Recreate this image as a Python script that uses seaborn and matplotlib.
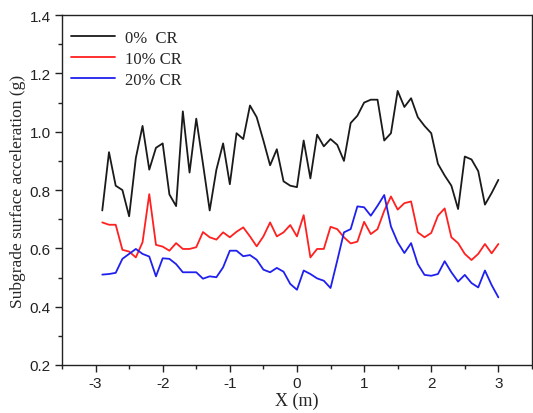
import numpy as np
import pandas as pd
import matplotlib
matplotlib.use("Agg")
import matplotlib.pyplot as plt
from matplotlib.ticker import MultipleLocator
import seaborn as sns

x_m = [round(-2.9 + 0.1 * i, 1) for i in range(60)]

cr0 = [0.73, 0.93, 0.815, 0.80, 0.71, 0.91, 1.02, 0.87, 0.945, 0.96,
       0.785, 0.745, 1.07, 0.86, 1.045, 0.89, 0.73, 0.87, 0.96, 0.82,
       0.995, 0.975, 1.09, 1.05, 0.97, 0.885, 0.94, 0.83, 0.815, 0.81,
       0.97, 0.84, 0.99, 0.95, 0.975, 0.955, 0.90, 1.03, 1.055, 1.10,
       1.11, 1.11, 0.97, 0.995, 1.14, 1.085, 1.115, 1.05, 1.02, 0.995,
       0.89, 0.85, 0.815, 0.735, 0.915, 0.905, 0.865, 0.75, 0.79, 0.835]

cr10 = [0.689, 0.681, 0.681, 0.595, 0.589, 0.569, 0.621, 0.786, 0.612, 0.606,
        0.592, 0.618, 0.598, 0.598, 0.604, 0.656, 0.638, 0.63, 0.655, 0.638,
        0.657, 0.672, 0.641, 0.607, 0.641, 0.689, 0.641, 0.655, 0.68, 0.641,
        0.714, 0.569, 0.598, 0.598, 0.674, 0.666, 0.638, 0.617, 0.623, 0.691,
        0.649, 0.666, 0.729, 0.778, 0.733, 0.755, 0.761, 0.655, 0.638, 0.653,
        0.712, 0.737, 0.638, 0.618, 0.581, 0.56, 0.581, 0.615, 0.583, 0.615]

cr20 = [0.51, 0.512, 0.516, 0.564, 0.581, 0.598, 0.581, 0.572, 0.504, 0.566,
        0.564, 0.546, 0.518, 0.518, 0.518, 0.496, 0.504, 0.501, 0.535, 0.592,
        0.592, 0.573, 0.577, 0.561, 0.527, 0.518, 0.533, 0.52, 0.478, 0.458,
        0.524, 0.512, 0.497, 0.489, 0.464, 0.558, 0.655, 0.666, 0.744, 0.741,
        0.712, 0.746, 0.783, 0.675, 0.621, 0.584, 0.618, 0.546, 0.509, 0.506,
        0.512, 0.556, 0.518, 0.486, 0.509, 0.481, 0.466, 0.524, 0.474, 0.432]

series_names = ["0%  CR", "10% CR", "20% CR"]
colors = ["#1a1a1a", "#ff2020", "#2020ee"]
y_ticks = [0.2, 0.4, 0.6, 0.8, 1.0, 1.2, 1.4]
y_tick_labels = ["0.2", "0.4", "0.6", "0.8", "1.0", "1.2", "1.4"]
x_ticks = [-3, -2, -1, 0, 1, 2, 3]
x_tick_labels = ["-3", "-2", "-1", "0", "1", "2", "3"]

df = pd.concat([
    pd.DataFrame({"x": x_m, "acc": vals, "series": name})
    for name, vals in zip(series_names, [cr0, cr10, cr20])
])

sns.set_style("ticks")
plt.rcParams["font.family"] = ["Liberation Sans", "DejaVu Sans"]

fig = plt.figure(figsize=(5.33, 4.14), dpi=100)
ax = fig.add_axes([0.1163, 0.116, 0.8817, 0.845])

sns.lineplot(data=df, x="x", y="acc", hue="series", palette=colors,
             linewidth=1.3, ax=ax, legend=True)

ax.set_xlim(-3.5, 3.5)
ax.set_ylim(0.2, 1.4)
ax.set_yticks(y_ticks)
ax.set_yticklabels(y_tick_labels)
ax.set_xticks(x_ticks)
ax.set_xticklabels(x_tick_labels)
ax.xaxis.set_minor_locator(MultipleLocator(0.5))
ax.yaxis.set_minor_locator(MultipleLocator(0.1))

for lbl in ax.get_xticklabels() + ax.get_yticklabels():
    lbl.set_fontfamily("Liberation Sans")
    lbl.set_fontsize(11)
    lbl.set_color("#222222")

for s in ax.spines.values():
    s.set_visible(True)
    s.set_color("#222222")
    s.set_linewidth(1.0)

ax.tick_params(which="major", direction="out", length=5, width=1.0,
               colors="#222222", pad=3)
ax.tick_params(which="minor", direction="out", length=3, width=1.0,
               colors="#222222")

ax.set_xlabel("X (m)", family="Liberation Serif", fontsize=13, labelpad=1)
ax.set_ylabel("Subgrade surface acceleration (g)", family="Liberation Serif",
              fontsize=12.5, labelpad=3)

leg = ax.legend(loc="upper left", frameon=False,
                prop={"family": "Liberation Serif", "size": 12},
                handlelength=2.6, handletextpad=0.6, labelspacing=0.3,
                borderaxespad=0.5, bbox_to_anchor=(-0.012, 1.0))
for h in leg.get_lines():
    h.set_linewidth(1.3)

fig.savefig("out.png", dpi=100)
